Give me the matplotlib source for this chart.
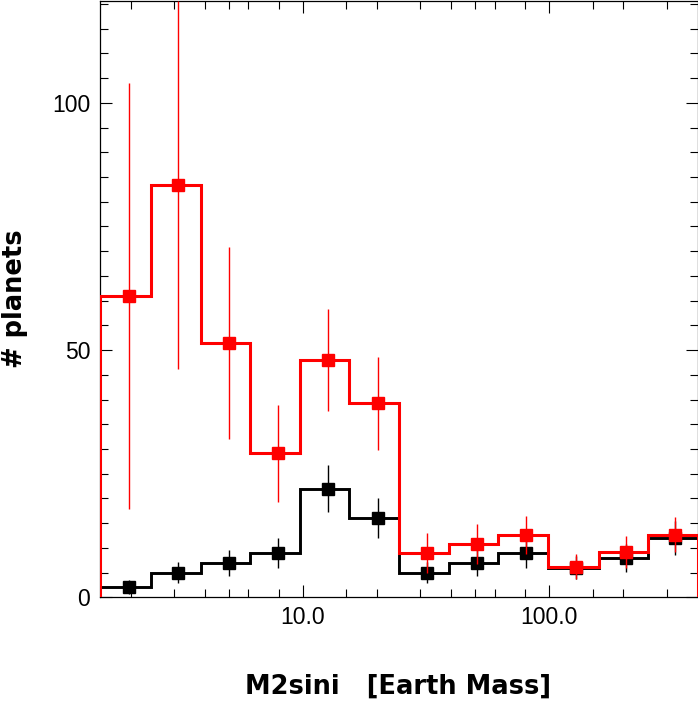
import matplotlib
matplotlib.use("Agg")
import matplotlib.pyplot as plt
from matplotlib.ticker import FixedLocator, NullFormatter

# bin edges of the step histograms (Earth masses)
EDGES = [1.5, 2.42, 3.84, 6.09, 9.72, 15.45, 24.6, 39.2, 62.1, 98.5, 158.6, 251.5, 400]
# marker positions
CENTERS = [1.96, 3.12, 5.0, 7.91, 12.6, 20.1, 31.8, 50.8, 80.4, 129, 205, 325]

# observed counts (black)
BLACK = [2, 5, 7, 9, 22, 16, 5, 7, 9, 6, 8, 12]
BLACK_ERR = [1.4, 2.2, 2.6, 3.0, 4.7, 4.0, 2.2, 2.6, 3.0, 2.4, 2.8, 3.5]

# corrected counts (red)
RED = [61.0, 83.4, 51.4, 29.1, 48.0, 39.2, 9.0, 10.8, 12.6, 6.2, 9.1, 12.7]
RED_ERR = [43.1, 37.3, 19.4, 9.8, 10.3, 9.5, 4.0, 4.0, 3.9, 2.6, 3.2, 3.6]

X_MAJOR = [10, 100]
X_MAJOR_LABELS = ["10.0", "100.0"]
X_MINOR = [2, 3, 4, 5, 6, 8, 15, 20, 30, 40, 50, 60, 80, 150, 200, 300]
Y_MAJOR = [0, 50, 100]

W, H = 698, 703
fig = plt.figure(figsize=(W / 100, H / 100), dpi=100)
ax = fig.add_axes([100 / W, (H - 597.3) / H, 597.5 / W, 596.8 / H])

# black histogram first, red on top
ax.stairs(BLACK, EDGES, baseline=0, color="black", lw=2.1, zorder=2)
ax.errorbar(CENTERS, BLACK, yerr=BLACK_ERR, fmt="s", color="black",
            ms=8.3, elinewidth=1.0, capsize=0, zorder=3)
ax.stairs(RED, EDGES, baseline=0, color="red", lw=2.2, zorder=4)
ax.errorbar(CENTERS, RED, yerr=RED_ERR, fmt="s", color="red",
            ms=8.3, elinewidth=1.0, capsize=0, zorder=5)

ax.set_xscale("log")
ax.set_xlim(1.5, 400)
ax.set_ylim(0, 120.7)

ax.xaxis.set_major_locator(FixedLocator(X_MAJOR))
ax.set_xticklabels(X_MAJOR_LABELS)
ax.xaxis.set_minor_locator(FixedLocator(X_MINOR))
ax.xaxis.set_minor_formatter(NullFormatter())
ax.set_yticks(Y_MAJOR)
ax.set_yticks(range(0, 121, 5), minor=True)

for lab in ax.get_xticklabels() + ax.get_yticklabels():
    lab.set_fontfamily("Liberation Sans")
    lab.set_fontsize(16.5)

ax.tick_params(which="both", direction="in", top=True, right=True, width=0.8)
ax.tick_params(which="major", length=8.8)
ax.tick_params(which="minor", length=6)
ax.tick_params(axis="x", pad=6)
ax.tick_params(axis="y", pad=7)
for s in ax.spines.values():
    s.set_linewidth(0.9)

fig.text(398.5 / W, (H - 693.3) / H, "M2sini   [Earth Mass]", ha="center",
         va="baseline", fontsize=18.5, fontweight="bold", family="DejaVu Sans")
fig.text(15.5 / W, (H - 299) / H, "# planets", ha="center", va="center",
         rotation=90, fontsize=18.5, fontweight="bold", family="DejaVu Sans")

fig.savefig("out.png", dpi=100)
